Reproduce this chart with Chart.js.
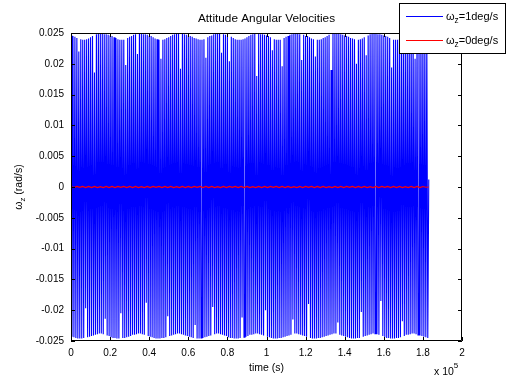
<!DOCTYPE html>
<html><head><meta charset="utf-8">
<script src="https://cdn.jsdelivr.net/npm/chart.js@4.4.0/dist/chart.umd.min.js"></script>
<style>html,body{margin:0;padding:0;background:#fff;overflow:hidden}canvas{display:block}</style>
</head><body>
<canvas id="c" width="507" height="377"></canvas>
<script>
const xTicks = [0, 20000, 40000, 60000, 80000, 100000, 120000, 140000, 160000, 180000, 200000];
const yTicks = [-0.025, -0.02, -0.015, -0.01, -0.005, 0, 0.005, 0.01, 0.015, 0.02, 0.025];
const xScaleFactor = 1e5;
const xExponent = '5';
const chartTitle = 'Attitude Angular Velocities';
const xLabel = 'time (s)';
const yLabel = 'ω_z (rad/s)';
const seriesNames = ['ω_z=1deg/s', 'ω_z=0deg/s'];
const seriesColors = ['#0000ff', '#ff0000'];

// sampling interval of the 1 deg/s run (s)
const blueStep = 500;
const blueValues = [
  0.0246,-0.0243, 0.0245,-0.0244, 0.0244,-0.0245, 0.0242,-0.0246, 0.0220,-0.0246, 0.0240,-0.0246, 0.0239,-0.0245, 0.0239,-0.0197, 0.0240,-0.0244, 0.0241,-0.0243,
  0.0243,-0.0242, 0.0245,-0.0241, 0.0186,-0.0240, 0.0248,-0.0239, 0.0249,-0.0238, 0.0249,-0.0238, 0.0249,-0.0239, 0.0248,-0.0214, 0.0248,-0.0241, 0.0247,-0.0242,
  0.0246,-0.0244, 0.0245,-0.0245, 0.0243,-0.0245, 0.0242,-0.0246, 0.0240,-0.0246, 0.0239,-0.0205, 0.0239,-0.0245, 0.0239,-0.0245, 0.0198,-0.0244, 0.0242,-0.0243,
  0.0244,-0.0242, 0.0245,-0.0240, 0.0247,-0.0240, 0.0248,-0.0239, 0.0216,-0.0238, 0.0249,-0.0238, 0.0249,-0.0239, 0.0248,-0.0240, 0.0248,-0.0188, 0.0247,-0.0242,
  0.0245,-0.0243, 0.0245,-0.0244, 0.0243,-0.0245, 0.0241,-0.0246, 0.0240,-0.0246, 0.0239,-0.0246, 0.0208,-0.0245, 0.0239,-0.0245, 0.0240,-0.0244, 0.0242,-0.0210,
  0.0243,-0.0242, 0.0245,-0.0241, 0.0247,-0.0240, 0.0248,-0.0239, 0.0249,-0.0238, 0.0249,-0.0238, 0.0192,-0.0239, 0.0249,-0.0240, 0.0248,-0.0241, 0.0247,-0.0242,
  0.0246,-0.0243, 0.0245,-0.0244, 0.0244,-0.0245, 0.0242,-0.0224, 0.0241,-0.0246, 0.0240,-0.0246, 0.0239,-0.0245, 0.0239,-0.0245, 0.0240,-0.0244, 0.0210,-0.0243,
  0.0243,-0.0242, 0.0245,-0.0241, 0.0246,-0.0195, 0.0248,-0.0239, 0.0249,-0.0238, 0.0249,-0.0238, 0.0249,-0.0239, 0.0218,-0.0240, 0.0248,-0.0241, 0.0247,-0.0242,
  0.0246,-0.0244, 0.0204,-0.0245, 0.0244,-0.0245, 0.0242,-0.0246, 0.0240,-0.0246, 0.0239,-0.0246, 0.0239,-0.0245, 0.0239,-0.0212, 0.0240,-0.0244, 0.0241,-0.0243,
  0.0243,-0.0242, 0.0245,-0.0240, 0.0247,-0.0240, 0.0248,-0.0239, 0.0249,-0.0238, 0.0180,-0.0238, 0.0249,-0.0239, 0.0248,-0.0240, 0.0248,-0.0241, 0.0247,-0.0200,
  0.0246,-0.0243, 0.0245,-0.0244, 0.0243,-0.0245, 0.0222,-0.0246, 0.0240,-0.0246, 0.0239,-0.0246, 0.0239,-0.0245, 0.0239,-0.0245, 0.0196,-0.0244, 0.0242,-0.0243,
  0.0244,-0.0242, 0.0245,-0.0241, 0.0247,-0.0240, 0.0248,-0.0215, 0.0249,-0.0238, 0.0249,-0.0238, 0.0249,-0.0239, 0.0248,-0.0240, 0.0206,-0.0241, 0.0247,-0.0242,
  0.0245,-0.0243, 0.0245,-0.0190, 0.0243,-0.0245, 0.0241,-0.0246, 0.0240,-0.0246, 0.0212,-0.0246, 0.0239,-0.0245, 0.0239,-0.0245, 0.0240,-0.0244, 0.0242,-0.0243,
  0.0243,-0.0242, 0.0245,-0.0241, 0.0247,-0.0240, 0.0190,-0.0239, 0.0249,-0.0238, 0.0249,-0.0238, 0.0249,-0.0220, 0.0249,-0.0240, 0.0248,-0.0241, 0.0247,-0.0242,
  0.0246,-0.0243, 0.0245,-0.0244, 0.0244,-0.0245, 0.0242,-0.0246, 0.0241,-0.0246, 0.0240,-0.0246, 0.0200,-0.0245, 0.0239,-0.0245, 0.0240,-0.0203, 0.0241,-0.0243,
  0.0243,-0.0242, 0.0214,-0.0241, 0.0246,-0.0240, 0.0248,-0.0239, 0.0249,-0.0238, 0.0249,-0.0238, 0.0249,-0.0239, 0.0248,-0.0240, 0.0248,-0.0185, 0.0247,-0.0242,
  0.0246,-0.0244, 0.0245,-0.0245, 0.0244,-0.0245, 0.0242,-0.0246, 0.0194,-0.0246, 0.0239,-0.0246, 0.0239,-0.0245, 0.0239,-0.0245, 0.0240,-0.0244, 0.0241,-0.0218,
  0.0243,-0.0242, 0.0245,-0.0240, 0.0247,-0.0240, 0.0248,-0.0239, 0.0249,-0.0238, 0.0249,-0.0238, 0.0208,-0.0239, 0.0248,-0.0240, 0.0248,-0.0241, 0.0247,-0.0242,
  0.0246,-0.0243, 0.0245,-0.0244, 0.0244,-0.0245, 0.0012
];

// sampling interval of the 0 deg/s run (s)
const redStep = 1500;
const redValues = [
  0.00009,-0.00008, 0.00010,-0.00007, 0.00009,-0.00009, 0.00008,-0.00010, 0.00010,-0.00008,
  0.00007,-0.00009, 0.00010,-0.00008, 0.00009,-0.00010, 0.00008,-0.00007, 0.00010,-0.00009,
  0.00009,-0.00008, 0.00010,-0.00009, 0.00007,-0.00010, 0.00009,-0.00008, 0.00010,-0.00007,
  0.00008,-0.00009, 0.00010,-0.00010, 0.00009,-0.00008, 0.00007,-0.00009, 0.00010,-0.00008,
  0.00009,-0.00010, 0.00008,-0.00007, 0.00010,-0.00009, 0.00009,-0.00008, 0.00010,-0.00009,
  0.00007,-0.00010, 0.00009,-0.00008, 0.00010,-0.00007, 0.00008,-0.00009, 0.00010,-0.00010,
  0.00009,-0.00008, 0.00007,-0.00009, 0.00010,-0.00008, 0.00009,-0.00010, 0.00008,-0.00007,
  0.00010,-0.00009, 0.00009,-0.00008, 0.00010,-0.00009, 0.00007,-0.00010, 0.00009,-0.00008,
  0.00010,-0.00007, 0.00008,-0.00009, 0.00010,-0.00010, 0.00009,-0.00008, 0.00007,-0.00009,
  0.00010,-0.00008, 0.00009,-0.00010, 0.00008,-0.00007, 0.00010,-0.00009, 0.00009,-0.00008,
  0.00010,-0.00009, 0.00007,-0.00010, 0.00009,-0.00008, 0.00010,-0.00007, 0.00008,-0.00009,
  0.00010,-0.00010, 0.00009,-0.00008, 0.00007,-0.00009, 0.00010,-0.00008, 0.00009,-0.00010,
  0.00008,-0.00004, 0.00000
];

const FONT = '"Liberation Sans", Arial, Helvetica, sans-serif';

function toPoints(values, step) {
  return values.map((v, i) => ({ x: i * step, y: v }));
}

function richWidth(ctx, text, size) {
  const parts = text.split('_');
  let w = 0;
  parts.forEach((p, i) => {
    if (i === 0) { ctx.font = size + 'px ' + FONT; w += ctx.measureText(p).width; }
    else {
      ctx.font = (size * 0.75) + 'px ' + FONT; w += ctx.measureText(p[0]).width;
      ctx.font = size + 'px ' + FONT; w += ctx.measureText(p.slice(1)).width;
    }
  });
  return w;
}
function drawRich(ctx, text, x, y, size, align) {
  const w = richWidth(ctx, text, size);
  let cx = align === 'center' ? x - w / 2 : (align === 'right' ? x - w : x);
  ctx.textAlign = 'left';
  ctx.textBaseline = 'middle';
  const parts = text.split('_');
  parts.forEach((p, i) => {
    if (i === 0) { ctx.font = size + 'px ' + FONT; ctx.fillText(p, cx, y); cx += ctx.measureText(p).width; }
    else {
      ctx.font = (size * 0.75) + 'px ' + FONT; ctx.fillText(p[0], cx, y + size * 0.35); cx += ctx.measureText(p[0]).width;
      ctx.font = size + 'px ' + FONT; ctx.fillText(p.slice(1), cx, y); cx += ctx.measureText(p.slice(1)).width;
    }
  });
}

const framePlugin = {
  id: 'frame',
  afterDatasetsDraw(chart) {
    const { ctx, chartArea: a, scales } = chart;
    ctx.save();
    ctx.strokeStyle = '#000';
    ctx.lineWidth = 1;
    ctx.beginPath();
    ctx.rect(Math.round(a.left) + 0.5, Math.round(a.top) + 0.5, Math.round(a.right - a.left) - 1, Math.round(a.bottom - a.top) - 1);
    ctx.stroke();
    const tl = 4;
    ctx.beginPath();
    yTicks.forEach(v => {
      const py = Math.round(scales.y.getPixelForValue(v)) + 0.5;
      ctx.moveTo(a.left, py); ctx.lineTo(a.left + tl, py);
      ctx.moveTo(a.right - tl, py); ctx.lineTo(a.right, py);
    });
    xTicks.forEach(v => {
      const px = Math.round(scales.x.getPixelForValue(v)) + 0.5;
      ctx.moveTo(px, a.bottom); ctx.lineTo(px, a.bottom - tl);
      ctx.moveTo(px, a.top); ctx.lineTo(px, a.top + tl);
    });
    ctx.stroke();
    ctx.restore();
  },
  afterDraw(chart) {
    const { ctx, chartArea: a } = chart;
    ctx.save();
    ctx.fillStyle = '#000';
    ctx.font = '11.8px ' + FONT;
    ctx.textAlign = 'center'; ctx.textBaseline = 'middle';
    ctx.fillText(chartTitle, (a.left + a.right) / 2, 19);
    ctx.font = '10.5px ' + FONT;
    ctx.fillText(xLabel, (a.left + a.right) / 2, 368);
    ctx.textAlign = 'left';
    ctx.font = '10.5px ' + FONT;
    ctx.fillText('x 10', 434, 372);
    const w = ctx.measureText('x 10').width;
    ctx.font = '8px ' + FONT;
    ctx.fillText(xExponent, 434 + w, 366);
    ctx.save();
    ctx.translate(19, (a.top + a.bottom) / 2);
    ctx.rotate(-Math.PI / 2);
    drawRich(ctx, yLabel, 0, 0, 10.5, 'center');
    ctx.restore();
    const bx = 399, by = 3, bw = 106, bh = 50;
    ctx.fillStyle = '#fff';
    ctx.fillRect(bx, by, bw, bh);
    ctx.strokeStyle = '#000'; ctx.lineWidth = 1;
    ctx.strokeRect(bx + 0.5, by + 0.5, bw, bh);
    const rows = [16, 40];
    seriesNames.forEach((name, i) => {
      ctx.strokeStyle = seriesColors[i];
      ctx.beginPath();
      ctx.moveTo(406, rows[i] + 0.5); ctx.lineTo(443, rows[i] + 0.5);
      ctx.stroke();
      ctx.fillStyle = '#000';
      drawRich(ctx, name, 446, rows[i] + 1, 11, 'left');
    });
    ctx.restore();
  }
};

new Chart(document.getElementById('c'), {
  type: 'line',
  data: {
    datasets: [
      { label: seriesNames[0], data: toPoints(blueValues, blueStep), borderColor: seriesColors[0], borderWidth: 1.1, pointRadius: 0, tension: 0, order: 1 },
      { label: seriesNames[1], data: toPoints(redValues, redStep), borderColor: seriesColors[1], borderWidth: 1.2, pointRadius: 0, tension: 0, order: 0 }
    ]
  },
  options: {
    responsive: false,
    animation: false,
    devicePixelRatio: 1,
    layout: { padding: { left: 0, right: 45, top: 33, bottom: 0 } },
    plugins: { legend: { display: false }, title: { display: false }, tooltip: { enabled: false } },
    scales: {
      x: {
        type: 'linear', min: 0, max: 200000,
        grid: { display: false, drawTicks: false },
        border: { display: false },
        afterBuildTicks(s) { s.ticks = xTicks.map(v => ({ value: v })); },
        afterFit(s) { s.height = 36; },
        ticks: { color: '#000', font: { family: FONT, size: 10 }, padding: 6, maxRotation: 0, autoSkip: false,
          callback: v => String(parseFloat((v / xScaleFactor).toFixed(2))) }
      },
      y: {
        type: 'linear', min: -0.025, max: 0.025,
        grid: { display: false, drawTicks: false },
        border: { display: false },
        afterBuildTicks(s) { s.ticks = yTicks.map(v => ({ value: v })); },
        afterFit(s) { s.width = 71; },
        ticks: { color: '#000', font: { family: FONT, size: 10 }, padding: 7, autoSkip: false,
          callback: v => String(parseFloat(v.toFixed(4))) }
      }
    }
  },
  plugins: [framePlugin]
});
</script>
</body></html>
